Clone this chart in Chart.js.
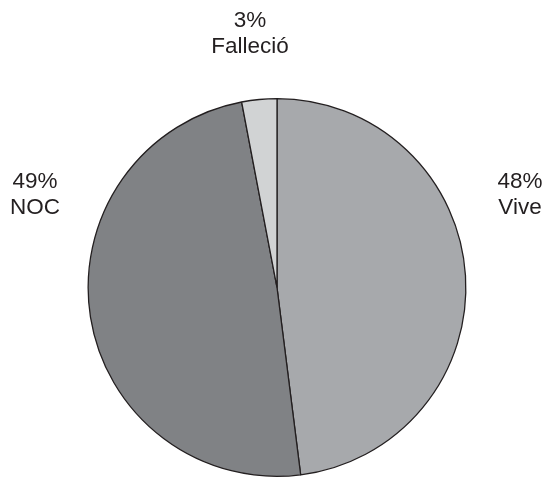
<!DOCTYPE html>
<html>
<head>
<meta charset="utf-8">
<script src="https://cdn.jsdelivr.net/npm/chart.js@4/dist/chart.umd.min.js"></script>
<style>
  html, body { margin: 0; padding: 0; background: #fff; }
  #wrap { width: 547px; height: 479px; }
</style>
</head>
<body>
<div id="wrap"><canvas id="myChart" width="547" height="479"></canvas></div>
<script>
const ctx = document.getElementById('myChart').getContext('2d');

// slices, clockwise from 12 o'clock
const categories = ['Vive', 'NOC', 'Falleció'];
const percents = [48, 49, 3];
const sliceColors = ['#a7a9ac', '#808285', '#d1d3d4'];

// label block placement, px from the pie centre (x = text centre, y = first baseline)
const labelOffsets = [
    {dx: 243, dy: -100},
    {dx: -242, dy: -100},
    {dx: -27, dy: -261}
];

//Outside labels: "NN%" above the category name
const sliceLabels = {
    id: 'sliceLabels',
    afterDatasetsDraw: chart => {
        const ctx = chart.ctx;
        const meta = chart.getDatasetMeta(0);
        ctx.save();
        ctx.font = "22.5px 'Liberation Sans', Arial, sans-serif";
        ctx.fillStyle = '#231f20';
        ctx.textAlign = 'center';
        ctx.textBaseline = 'alphabetic';
        meta.data.forEach((arc, i) => {
            const off = labelOffsets[i];
            const x = arc.x + off.dx;
            const y = arc.y + off.dy;
            ctx.fillText(chart.data.datasets[0].data[i] + '%', x, y);
            ctx.fillText(chart.data.labels[i], x, y + 26);
        });
        ctx.restore();
    }
};

const config = {
    type: 'pie',
    data: {
        labels: categories,
        datasets: [{
            data: percents,
            backgroundColor: sliceColors,
            borderColor: '#231f20',
            borderWidth: 1.3
        }]
    },
    options: {
        responsive: false,
        animation: false,
        layout: {
            padding: {left: 87, right: 80, top: 98, bottom: 2}
        },
        plugins: {
            legend: { display: false },
            tooltip: { enabled: false }
        }
    },
    plugins: [sliceLabels]
};

const myChart = new Chart(ctx, config);
</script>
</body>
</html>
